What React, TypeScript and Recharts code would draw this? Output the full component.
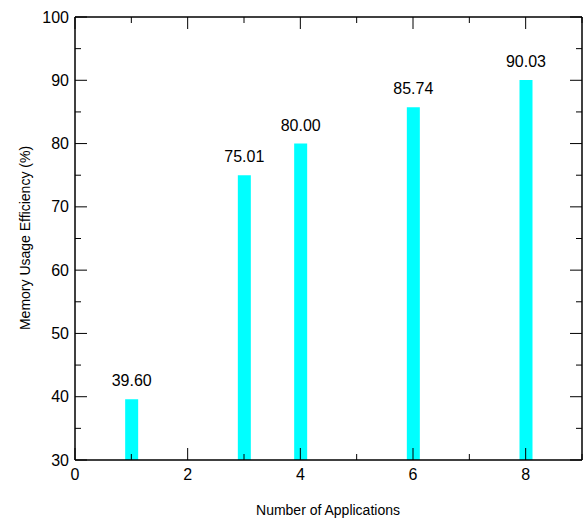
import React from "react";
import { ComposedChart, Bar, XAxis, YAxis, LabelList, Customized } from "recharts";

const apps = [1, 3, 4, 6, 8];
const efficiency = [39.6, 75.01, 80.0, 85.74, 90.03];
const xTicks = [0, 1, 2, 3, 4, 5, 6, 7, 8, 9];
const xLabeled = [0, 2, 4, 6, 8];
const yTicks = [30, 35, 40, 45, 50, 55, 60, 65, 70, 75, 80, 85, 90, 95, 100];
const yLabeled = [30, 40, 50, 60, 70, 80, 90, 100];

const data = apps.map((a, i) => ({ apps: a, eff: efficiency[i] }));

const FONT = "'Liberation Sans', Arial, Helvetica, sans-serif";
const MAJOR = 12;
const MINOR = 6;

const BottomTick = (props: any) => {
  const { x, y, payload } = props;
  const major = xLabeled.includes(payload.value);
  return (
    <g>
      <line x1={x} x2={x} y1={y} y2={y - (major ? MAJOR : MINOR)} stroke="#000" strokeWidth={1} />
      {major && (
        <text x={x} y={y + 14} textAnchor="middle" dominantBaseline="central" fontSize={16} fontFamily={FONT} fill="#000">
          {payload.value}
        </text>
      )}
    </g>
  );
};

const TopTick = (props: any) => {
  const { x, y, payload } = props;
  const major = xLabeled.includes(payload.value);
  return <line x1={x} x2={x} y1={y} y2={y + (major ? MAJOR : MINOR)} stroke="#000" strokeWidth={1} />;
};

const LeftTick = (props: any) => {
  const { x, y, payload } = props;
  const major = yLabeled.includes(payload.value);
  return (
    <g>
      <line x1={x} x2={x + (major ? MAJOR : MINOR)} y1={y} y2={y} stroke="#000" strokeWidth={1} />
      {major && (
        <text x={x - 6} y={y} textAnchor="end" dominantBaseline="central" fontSize={16} fontFamily={FONT} fill="#000">
          {payload.value}
        </text>
      )}
    </g>
  );
};

const RightTick = (props: any) => {
  const { x, y, payload } = props;
  const major = yLabeled.includes(payload.value);
  return <line x1={x} x2={x - (major ? MAJOR : MINOR)} y1={y} y2={y} stroke="#000" strokeWidth={1} />;
};

const BarLabel = (props: any) => {
  const { x, y, width, value } = props;
  return (
    <text x={x + width / 2} y={y - 13} textAnchor="middle" fontSize={16} fontFamily={FONT} fill="#000">
      {Number(value).toFixed(2)}
    </text>
  );
};

const Titles = () => (
  <g>
    <text x={328} y={510} textAnchor="middle" dominantBaseline="central" fontSize={14} fontFamily={FONT} fill="#000">
      Number of Applications
    </text>
    <text
      x={25}
      y={238}
      textAnchor="middle"
      dominantBaseline="central"
      fontSize={14}
      fontFamily={FONT}
      fill="#000"
      transform="rotate(-90 25 238)"
    >
      Memory Usage Efficiency (%)
    </text>
  </g>
);

export default function App() {
  return (
    <div style={{ position: "absolute", left: 0, top: 0, background: "#fff" }}>
      <ComposedChart
        width={586}
        height={523}
        data={data}
        margin={{ top: 16, right: 3, left: 74, bottom: 62 }}
      >
        <XAxis
          xAxisId="bottom"
          type="number"
          dataKey="apps"
          domain={[0, 9]}
          ticks={xTicks}
          interval={0}
          height={1}
          tickSize={0}
          tickMargin={0}
          tickLine={false}
          axisLine={{ stroke: "#000", strokeWidth: 1.5 }}
          tick={<BottomTick />}
          allowDataOverflow
        />
        <XAxis
          xAxisId="top"
          orientation="top"
          type="number"
          dataKey="apps"
          domain={[0, 9]}
          ticks={xTicks}
          interval={0}
          height={1}
          tickSize={0}
          tickMargin={0}
          tickLine={false}
          axisLine={{ stroke: "#000", strokeWidth: 1.5 }}
          tick={<TopTick />}
          allowDataOverflow
        />
        <YAxis
          yAxisId="left"
          type="number"
          domain={[30, 100]}
          ticks={yTicks}
          interval={0}
          width={1}
          tickSize={0}
          tickMargin={0}
          tickLine={false}
          axisLine={{ stroke: "#000", strokeWidth: 1.5 }}
          tick={<LeftTick />}
          allowDataOverflow
        />
        <YAxis
          yAxisId="right"
          orientation="right"
          type="number"
          domain={[30, 100]}
          ticks={yTicks}
          interval={0}
          width={1}
          tickSize={0}
          tickMargin={0}
          tickLine={false}
          axisLine={{ stroke: "#000", strokeWidth: 1.5 }}
          tick={<RightTick />}
          allowDataOverflow
        />
        <Bar
          xAxisId="bottom"
          yAxisId="left"
          dataKey="eff"
          fill="#00FFFF"
          barSize={13}
          isAnimationActive={false}
        >
          <LabelList dataKey="eff" content={<BarLabel />} />
        </Bar>
        <Customized component={Titles} />
      </ComposedChart>
    </div>
  );
}
